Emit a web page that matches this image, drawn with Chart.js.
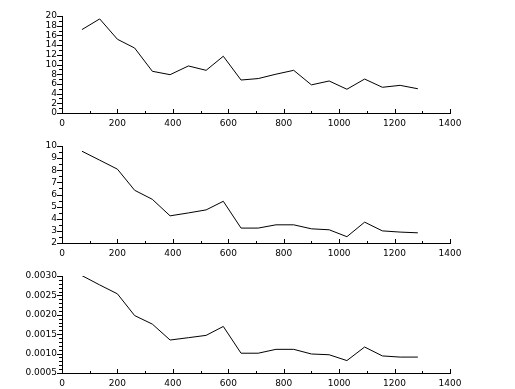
<!DOCTYPE html>
<html>
<head>
<meta charset="utf-8">
<script src="https://cdn.jsdelivr.net/npm/chart.js@4"></script>
<style>
  html, body { margin: 0; padding: 0; background: #fff; }
  body { width: 515px; height: 389px; position: relative; overflow: hidden; }
  canvas { position: absolute; left: 0; }
</style>
</head>
<body>
<canvas id="c1" width="515" height="130" style="top:0px"></canvas>
<canvas id="c2" width="515" height="130" style="top:130px"></canvas>
<canvas id="c3" width="515" height="130" style="top:260px"></canvas>
<script>
// ---- data ----
const xValues = [72, 136, 200, 262, 326, 390, 456, 520, 582, 646, 708, 772, 836, 900, 964, 1028, 1092, 1156, 1220, 1284];
const seriesTop = [17.2, 19.4, 15.2, 13.4, 8.6, 7.9, 9.7, 8.8, 11.7, 6.8, 7.1, 8.0, 8.8, 5.8, 6.6, 4.9, 7.0, 5.3, 5.7, 5.0];
const seriesMid = [9.57, 8.83, 8.09, 6.35, 5.6, 4.24, 4.48, 4.73, 5.44, 3.23, 3.23, 3.5, 3.5, 3.17, 3.09, 2.52, 3.72, 3.0, 2.9, 2.84];
const seriesBot = [0.00301, 0.00277, 0.00254, 0.00198, 0.00176, 0.00135, 0.00141, 0.00147, 0.0017, 0.00101, 0.00101, 0.00111, 0.00111, 0.00099, 0.00097, 0.00082, 0.00117, 0.00094, 0.00091, 0.00091];
const xTickLabels = [0, 200, 400, 600, 800, 1000, 1200, 1400];
const yTopTicks = [0, 2, 4, 6, 8, 10, 12, 14, 16, 18, 20];
const yMidTicks = [2, 3, 4, 5, 6, 7, 8, 9, 10];
const yBotTicks = ['0.0005', '0.0010', '0.0015', '0.0020', '0.0025', '0.0030'];

const FONT = { family: 'DejaVu Sans', size: 9 };

const tickMarks = {
  id: 'tickMarks',
  afterDraw(chart, args, opts) {
    const { ctx } = chart;
    const x = chart.scales.x, y = chart.scales.y;
    ctx.save();
    ctx.strokeStyle = '#000';
    ctx.lineWidth = 1;
    ctx.beginPath();
    const nx = Math.round((x.max - x.min) / opts.xMinor);
    const xRatio = Math.round(opts.xMajor / opts.xMinor);
    for (let i = 0; i <= nx; i++) {
      const v = x.min + i * opts.xMinor;
      const px = Math.round(x.getPixelForValue(v)) + 0.5;
      const len = (i % xRatio === 0) ? 4 : 2;
      ctx.moveTo(px, y.bottom);
      ctx.lineTo(px, y.bottom - len);
    }
    const ny = Math.round((y.max - y.min) / opts.yMinor);
    const yRatio = Math.round(opts.yMajor / opts.yMinor);
    for (let i = 0; i <= ny; i++) {
      const v = y.min + i * opts.yMinor;
      const py = Math.round(y.getPixelForValue(v)) + 0.5;
      const len = (i % yRatio === 0) ? 5 : 3;
      ctx.moveTo(x.left, py);
      ctx.lineTo(x.left - len, py);
    }
    ctx.stroke();
    ctx.restore();
  }
};

function makeChart(id, values, yMin, yMax, yStep, yMinor, yLabels) {
  const ctx = document.getElementById(id);
  return new Chart(ctx, {
    type: 'line',
    data: {
      datasets: [{
        data: xValues.map((xv, i) => ({ x: xv, y: values[i] })),
        borderColor: '#000',
        borderWidth: 1,
        pointRadius: 0,
        tension: 0,
        fill: false
      }]
    },
    options: {
      responsive: false,
      animation: false,
      events: [],
      layout: { padding: { top: 16, right: 65, left: 0, bottom: 0 } },
      plugins: {
        legend: { display: false },
        tooltip: { enabled: false },
        tickMarks: { xMinor: 100, xMajor: 200, yMinor: yMinor, yMajor: yStep }
      },
      scales: {
        x: {
          type: 'linear',
          min: 0, max: 1400,
          grid: { display: false, drawTicks: false },
          border: { display: true, color: '#000', width: 1 },
          ticks: {
            stepSize: 200,
            font: FONT, color: '#000', padding: 5,
            maxRotation: 0, autoSkip: false,
            callback: (v) => {
              const idx = xTickLabels.indexOf(Math.round(v));
              return idx >= 0 ? String(xTickLabels[idx]) : '';
            }
          },
          afterFit: (s) => { s.height = 17; }
        },
        y: {
          type: 'linear',
          min: yMin, max: yMax,
          grid: { display: false, drawTicks: false },
          border: { display: true, color: '#000', width: 1 },
          ticks: {
            stepSize: yStep,
            font: FONT, color: '#000', padding: 5,
            autoSkip: false,
            callback: (v, i) => (yLabels[i] !== undefined ? String(yLabels[i]) : '')
          },
          afterFit: (s) => { s.width = 62; }
        }
      }
    },
    plugins: [tickMarks]
  });
}

makeChart('c1', seriesTop, 0, 20, 2, 1, yTopTicks);
makeChart('c2', seriesMid, 2, 10, 1, 0.5, yMidTicks);
makeChart('c3', seriesBot, 0.0005, 0.0030, 0.0005, 0.0001, yBotTicks);
</script>
</body>
</html>
